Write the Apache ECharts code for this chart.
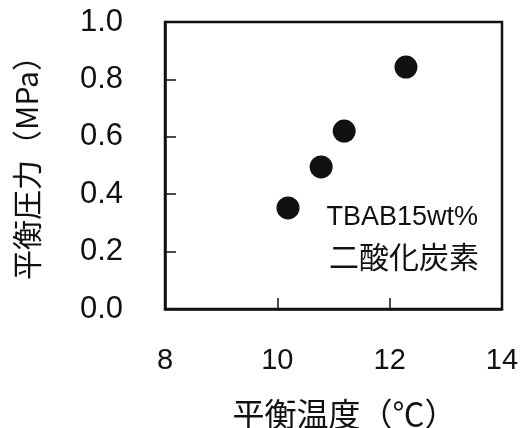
<!DOCTYPE html>
<html>
<head>
<meta charset="utf-8">
<script src="https://cdn.jsdelivr.net/npm/echarts@6/dist/echarts.min.js"></script>
<style>
  html, body { margin: 0; padding: 0; background: #fff; }
  #chart { width: 524px; height: 428px; }
</style>
</head>
<body>
<div id="chart"></div>
<script>
// 平衡温度 (℃) と 平衡圧力 (MPa)
const temps = [10.19, 10.78, 11.19, 12.29]
const pressures = [0.352, 0.495, 0.62, 0.843]
const xTicks = [8, 10, 12, 14]
const yTicks = [0.0, 0.2, 0.4, 0.6, 0.8, 1.0]
const labelLines = ['TBAB15wt%', '二酸化炭素']

const fontCJK = '"Noto Sans CJK JP", "Liberation Sans", sans-serif'
const fontNum = '"Liberation Sans", Arial, sans-serif'

const chart = echarts.init(document.getElementById('chart'))

const option = {
  animation: false,
  grid: {
    left: 165,
    right: 22,
    top: 22,
    bottom: 119,
    outerBoundsMode: 'none',
    containLabel: false,
    show: true,
    borderColor: '#111',
    borderWidth: 2.5,
  },
  xAxis: {
    type: 'value',
    min: xTicks[0],
    max: xTicks[xTicks.length - 1],
    interval: 2,
    name: '平衡温度（℃）',
    nameLocation: 'middle',
    nameGap: 89,
    nameTextStyle: { fontFamily: fontCJK, fontSize: 32, color: '#111', padding: [0, 0, 0, 22] },
    axisLine: { show: true, lineStyle: { color: '#111', width: 2.5 } },
    axisTick: { show: true, inside: true, length: 11, lineStyle: { color: '#111', width: 1.5 } },
    axisLabel: {
      margin: 37,
      fontFamily: fontNum,
      fontSize: 29,
      color: '#111',
      formatter: (v) => (xTicks.includes(v) ? String(v) : ''),
    },
    splitLine: { show: false },
  },
  yAxis: {
    type: 'value',
    min: 0,
    max: 1,
    interval: 0.2,
    name: '平衡圧力（MPa）',
    nameLocation: 'middle',
    nameGap: 123,
    nameRotate: 90,
    nameTextStyle: { fontFamily: fontCJK, fontSize: 30, color: '#111', padding: [0, 0, 0, 10] },
    axisLine: { show: true, lineStyle: { color: '#111', width: 2.5 } },
    axisTick: { show: true, inside: true, length: 11, lineStyle: { color: '#111', width: 1.5 } },
    axisLabel: {
      margin: 42,
      fontFamily: fontNum,
      fontSize: 31,
      color: '#111',
      formatter: (v) => {
        const t = yTicks.find((y) => Math.abs(y - v) < 1e-6)
        return t === undefined ? '' : t.toFixed(1)
      },
    },
    splitLine: { show: false },
  },
  series: [
    {
      type: 'scatter',
      symbol: 'circle',
      symbolSize: 23,
      itemStyle: { color: '#111', opacity: 1 },
      data: temps.map((t, i) => [t, pressures[i]]),
    },
  ],
  graphic: [
    {
      type: 'text',
      x: 478,
      y: 218,
      style: {
        text: labelLines[0],
        font: '27px ' + fontNum,
        fill: '#111',
        align: 'right',
        verticalAlign: 'middle',
      },
    },
    {
      type: 'text',
      x: 479,
      y: 257,
      style: {
        text: labelLines[1],
        font: '30px ' + fontCJK,
        fill: '#111',
        align: 'right',
        verticalAlign: 'middle',
      },
    },
  ],
}

chart.setOption(option)
</script>
</body>
</html>
